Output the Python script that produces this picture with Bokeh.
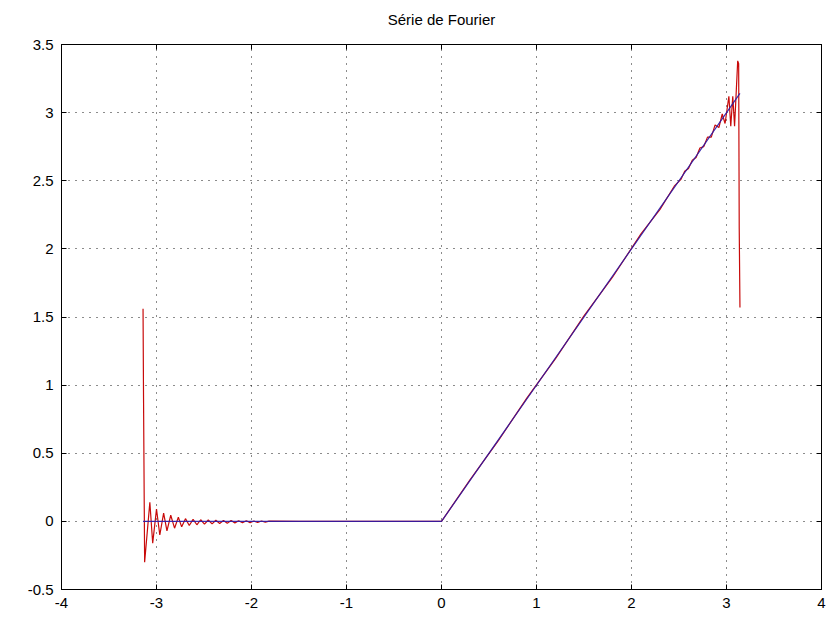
from bokeh.plotting import figure
from bokeh.models import FixedTicker, Range1d, LinearAxis, CustomJSTickFormatter
from bokeh.embed import file_html
from bokeh.resources import INLINE

# ---- data ----
title_text = "Série de Fourier"
x_ticks = [-4, -3, -2, -1, 0, 1, 2, 3, 4]
x_tick_labels = ["-4", "-3", "-2", "-1", "0", "1", "2", "3", "4"]
y_ticks = [-0.5, 0, 0.5, 1, 1.5, 2, 2.5, 3, 3.5]
y_tick_labels = ["-0.5", "0", "0.5", "1", "1.5", "2", "2.5", "3", "3.5"]

# target function (blue)
func_x = [-3.1416, 0.0, 3.1416]
func_y = [0.0, 0.0, 3.1416]

# partial Fourier sum (red)
series_x = [-3.1416, -3.137, -3.125, -3.07, -3.04, -3.00, -2.965, -2.925, -2.89,
            -2.85, -2.81, -2.77, -2.735, -2.695, -2.655, -2.615, -2.575, -2.535,
            -2.495, -2.455, -2.415, -2.375, -2.335, -2.295, -2.255, -2.215, -2.175,
            -2.135, -2.095, -2.055, -2.015, -1.975, -1.935, -1.895, -1.855, -1.815,
            -1.5, -1.0, -0.5, 0.0, 0.3, 0.6, 0.9, 1.2, 1.5, 1.8, 2.1, 2.3, 2.45,
            2.52, 2.56, 2.60,
            2.64, 2.68, 2.72, 2.76, 2.80, 2.84, 2.88, 2.92, 2.955, 2.985, 3.025,
            3.045, 3.066, 3.085, 3.118, 3.128, 3.134, 3.1416]
series_y = [1.56, 0.96, -0.30, 0.14, -0.16, 0.09, -0.10, 0.06, -0.07,
            0.045, -0.05, 0.03, -0.04, 0.02, -0.03, 0.015, -0.025, 0.012,
            -0.02, 0.01, -0.018, 0.008, -0.015, 0.007, -0.013, 0.006, -0.011,
            0.005, -0.01, 0.004, -0.009, 0.003, -0.008, 0.003, -0.006, 0.002,
            0.0, 0.0, 0.0, 0.0, 0.305, 0.595, 0.906, 1.194, 1.508, 1.792, 2.11,
            2.29, 2.46, 2.51, 2.57, 2.59,
            2.65, 2.67, 2.74, 2.75, 2.82, 2.82, 2.91, 2.89, 2.99, 2.92, 3.12,
            2.90, 3.12, 2.90, 3.38, 3.36, 2.15, 1.57]

FONT = "Liberation Sans"

p = figure(width=827, height=618,
           x_range=Range1d(-4, 4), y_range=Range1d(-0.5, 3.5),
           output_backend="svg", toolbar_location=None,
           title=title_text,
           min_border_left=61, min_border_right=6,
           min_border_top=44, min_border_bottom=29)

p.title.align = "center"
p.title.text_font = FONT
p.title.text_font_size = "15px"
p.title.text_font_style = "normal"
p.title.text_color = "black"

p.background_fill_color = "white"
p.border_fill_color = "white"
p.outline_line_color = "black"
p.outline_line_width = 1
p.outline_line_alpha = 1

p.xaxis.ticker = FixedTicker(ticks=x_ticks)
p.xaxis.major_label_overrides = {t: l for t, l in zip(x_ticks, x_tick_labels)}
p.yaxis.ticker = FixedTicker(ticks=y_ticks)
p.yaxis.major_label_overrides = {t: l for t, l in zip(y_ticks, y_tick_labels)}

for ax in (p.xaxis, p.yaxis):
    ax.major_tick_in = 5
    ax.major_tick_out = 0
    ax.minor_tick_line_color = None
    ax.axis_line_color = "black"
    ax.major_tick_line_color = "black"
    ax.major_label_text_font = FONT
    ax.major_label_text_font_size = "15px"
    ax.major_label_text_color = "black"
p.xaxis.major_label_standoff = 8
p.yaxis.major_label_standoff = 8

# mirrored ticks on top and right (box style)
empty = CustomJSTickFormatter(code="return ''")
for loc in ("above", "right"):
    ax = LinearAxis(ticker=FixedTicker(ticks=x_ticks if loc == "above" else y_ticks),
                    formatter=empty)
    ax.major_tick_in = 5
    ax.major_tick_out = 0
    ax.minor_tick_line_color = None
    ax.axis_line_color = "black"
    ax.major_tick_line_color = "black"
    ax.major_label_standoff = 0
    ax.major_label_text_font_size = "1px"
    p.add_layout(ax, loc)

# invisible spacer axis that lifts the title higher above the plot area
spacer = LinearAxis(ticker=FixedTicker(ticks=x_ticks), formatter=empty)
spacer.axis_line_color = None
spacer.major_tick_line_color = None
spacer.minor_tick_line_color = None
spacer.major_tick_in = 0
spacer.major_tick_out = 12
spacer.major_label_standoff = 0
spacer.major_label_text_font_size = "1px"
p.add_layout(spacer, "above")

for g, t in ((p.xgrid, x_ticks), (p.ygrid, y_ticks)):
    g.ticker = FixedTicker(ticks=t)
    g.grid_line_color = "black"
    g.grid_line_dash = "1 6"
    g.grid_line_width = 1
    g.grid_line_alpha = 0.9

p.line(series_x, series_y, line_color="#c80a0a", line_width=1.2)
p.line(func_x, func_y, line_color="#2a1aa8", line_width=1.2, line_alpha=0.9)

open("out.html", "w").write(file_html(p, INLINE))
